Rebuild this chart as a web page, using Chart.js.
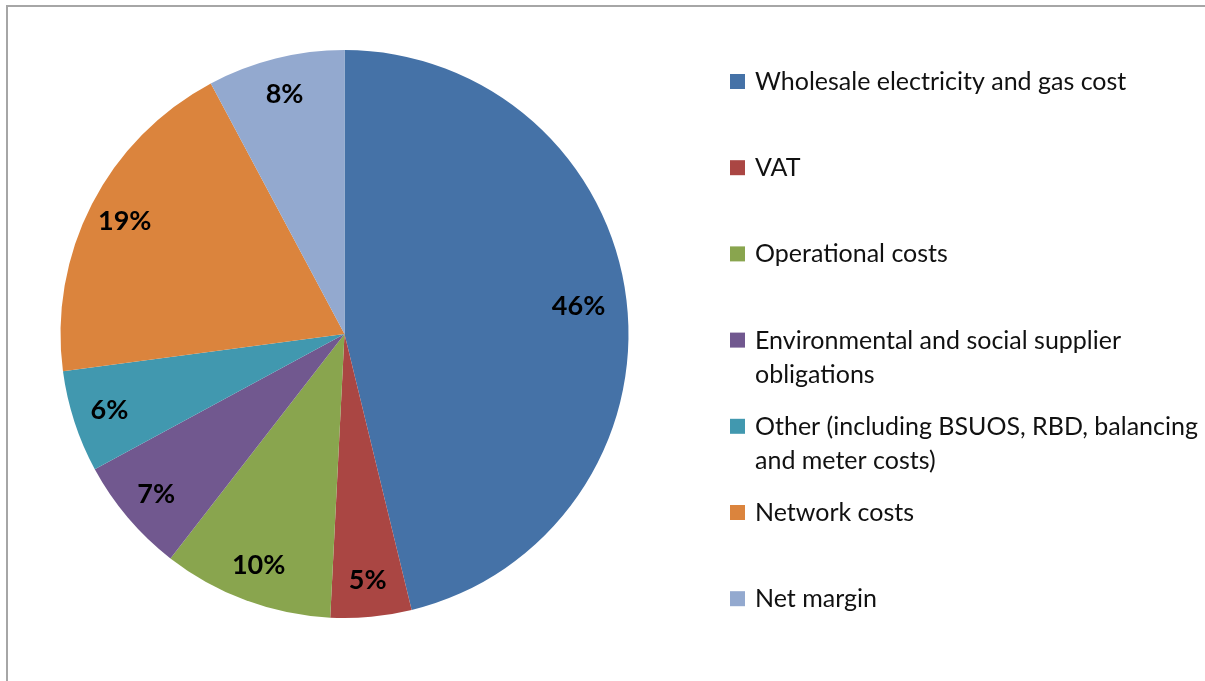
<!DOCTYPE html>
<html>
<head>
<meta charset="utf-8">
<script src="https://cdn.jsdelivr.net/npm/chart.js@4/dist/chart.umd.min.js"></script>
<style>
  html, body { margin: 0; padding: 0; background: #fff; }
  #wrap { width: 1205px; height: 681px; }
</style>
</head>
<body>
<div id="wrap"><canvas id="miGrafico" width="1205" height="681"></canvas></div>
<script>
// datos del grafico
const categorias = [
  'Wholesale electricity and gas cost',
  'VAT',
  'Operational costs',
  'Environmental and social supplier obligations',
  'Other (including BSUOS, RBD, balancing and meter costs)',
  'Network costs',
  'Net margin'
];
const valores = [46.2, 4.6, 9.7, 6.6, 5.8, 19.3, 7.8];
const etiquetas = ['46%', '5%', '10%', '7%', '6%', '19%', '8%'];
// lineas de la leyenda (ya partidas como en el original)
const lineasLeyenda = [
  ['Wholesale electricity and gas cost'],
  ['VAT'],
  ['Operational costs'],
  ['Environmental and social supplier', 'obligations'],
  ['Other (including BSUOS, RBD, balancing', 'and meter costs)'],
  ['Network costs'],
  ['Net margin']
];
const colores = ['#4572A7', '#AA4643', '#89A54E', '#71588F', '#4198AF', '#DB843D', '#93A9CF'];

// marco gris
const marco = {
  id: 'marco',
  beforeDraw(chart) {
    const ctx = chart.ctx;
    ctx.save();
    ctx.fillStyle = '#fff';
    ctx.fillRect(0, 0, chart.width, chart.height);
    ctx.strokeStyle = '#a6a6a6';
    ctx.lineWidth = 2;
    ctx.beginPath();
    ctx.moveTo(7, chart.height + 5);
    ctx.lineTo(7, 6);
    ctx.lineTo(chart.width + 5, 6);
    ctx.stroke();
    ctx.restore();
  }
};

// etiquetas de porcentaje dentro de cada porcion
const etiquetasPorcion = {
  id: 'etiquetasPorcion',
  afterDatasetsDraw(chart) {
    const ctx = chart.ctx;
    const meta = chart.getDatasetMeta(0);
    ctx.save();
    ctx.font = 'bold 27px Lato, "Open Sans", sans-serif';
    ctx.fillStyle = '#000';
    ctx.textAlign = 'center';
    ctx.textBaseline = 'middle';
    meta.data.forEach((arc, i) => {
      const { x, y, startAngle, endAngle, outerRadius } = arc.getProps(['x', 'y', 'startAngle', 'endAngle', 'outerRadius'], true);
      const mid = (startAngle + endAngle) / 2;
      const r = outerRadius * (i === 0 ? 0.83 : 0.87);
      ctx.fillText(etiquetas[i], x + Math.cos(mid) * r, y + Math.sin(mid) * r);
    });
    ctx.restore();
  }
};

// leyenda propia con texto en varias lineas
const leyenda = {
  id: 'leyenda',
  afterDraw(chart) {
    const ctx = chart.ctx;
    ctx.save();
    ctx.font = '25px Lato, "Open Sans", sans-serif';
    ctx.textBaseline = 'middle';
    const x0 = 730;
    let y0 = 82;
    lineasLeyenda.forEach((lineas, i) => {
      ctx.fillStyle = colores[i];
      ctx.fillRect(x0, y0 - 8, 15, 15);
      ctx.fillStyle = '#111';
      lineas.forEach((t, j) => {
        ctx.fillText(t, x0 + 25, y0 + j * 34);
      });
      y0 += 86.2;
    });
    ctx.restore();
  }
};

const ctx = document.getElementById('miGrafico').getContext('2d');
new Chart(ctx, {
  type: 'pie',
  data: {
    labels: categorias,
    datasets: [{
      data: valores,
      backgroundColor: colores,
      borderWidth: 0
    }]
  },
  options: {
    responsive: false,
    animation: false,
    layout: { padding: { left: 60, right: 576, top: 50, bottom: 63 } },
    plugins: {
      legend: { display: false },
      tooltip: { enabled: false }
    }
  },
  plugins: [marco, etiquetasPorcion, leyenda]
});
</script>
</body>
</html>
